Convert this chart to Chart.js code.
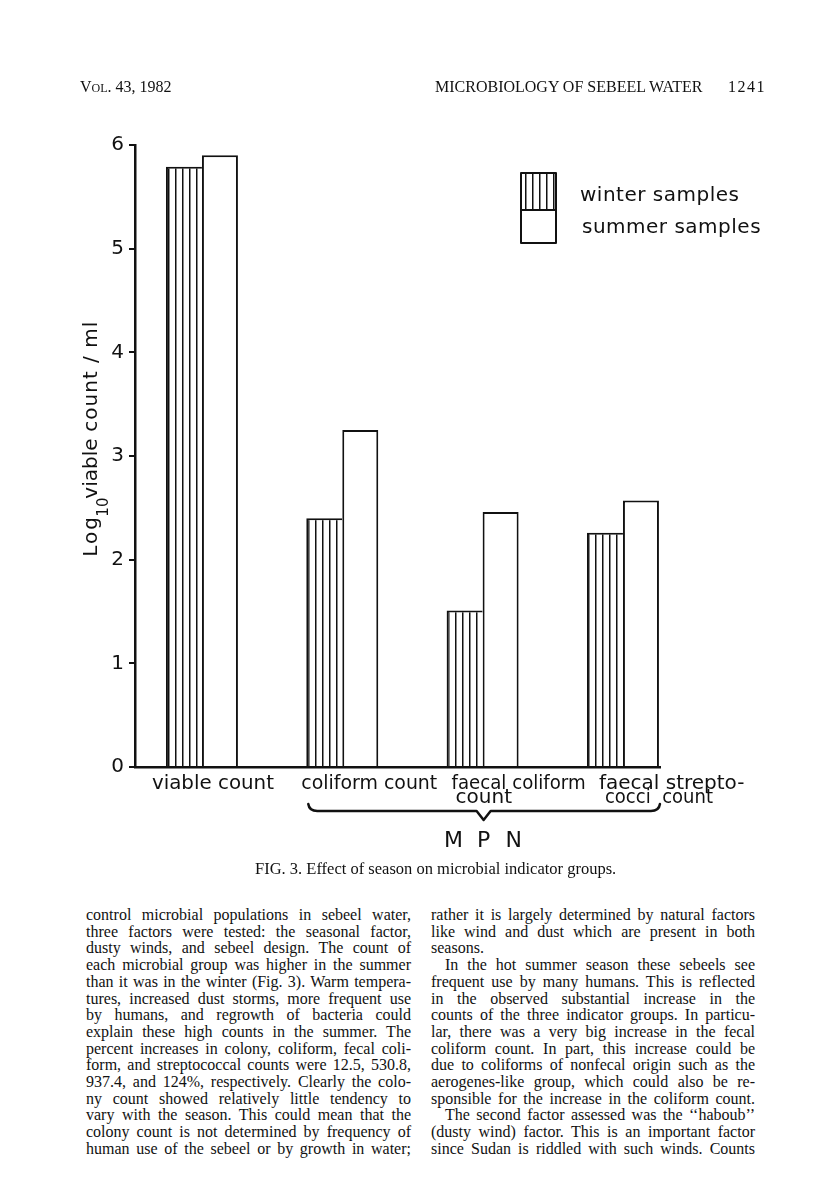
<!DOCTYPE html>
<html><head><meta charset="utf-8">
<script src="https://cdn.jsdelivr.net/npm/chart.js@4"></script>
<style>
html,body{margin:0;padding:0;background:#fff;}
body{width:816px;height:1204px;position:relative;overflow:hidden;}
#c{position:absolute;left:0;top:0;}
.t{position:absolute;font-family:'Liberation Serif','Times New Roman',serif;color:#111;white-space:nowrap;line-height:16px;}
.ln{position:absolute;font-family:'Liberation Serif','Times New Roman',serif;font-size:16px;line-height:16.7px;white-space:nowrap;color:#111;}
</style></head>
<body>
<canvas id="c" width="816" height="880"></canvas>
<div class="t" style="left:80px;top:79px;font-size:16px;">V<span style="font-size:12px">OL</span>. 43, 1982</div>
<div class="t" style="left:435px;top:79px;font-size:16px;">MICROBIOLOGY OF SEBEEL WATER</div>
<div class="t" style="left:728px;top:79px;font-size:16px;letter-spacing:1.5px;">1241</div>
<div class="t" style="left:255px;top:860px;font-size:16.5px;line-height:17px;">FIG. 3. Effect of season on microbial indicator groups.</div>
<script>
// ---- data ----
const categories = ['viable count', 'coliform count', 'faecal coliform count', 'faecal streptococci count'];
const categoryLines = [['viable count'], ['coliform count'], ['faecal coliform', 'count'], ['faecal strepto-', 'cocci  count']];
const winterSamples = [5.79, 2.40, 1.51, 2.26];
const summerSamples = [5.90, 3.25, 2.46, 2.57];
const yTicks = [0, 1, 2, 3, 4, 5, 6];
const seriesNames = ['winter samples', 'summer samples'];
const axisTitleParts = ['Log', '10', 'viable', 'count / ml'];
const groupLabel = ['M', 'P', 'N'];

const leftColumn = [
 'control microbial populations in sebeel water,',
 'three factors were tested: the seasonal factor,',
 'dusty winds, and sebeel design. The count of',
 'each microbial group was higher in the summer',
 'than it was in the winter (Fig. 3). Warm tempera-',
 'tures, increased dust storms, more frequent use',
 'by humans, and regrowth of bacteria could',
 'explain these high counts in the summer. The',
 'percent increases in colony, coliform, fecal coli-',
 'form, and streptococcal counts were 12.5, 530.8,',
 '937.4, and 124%, respectively. Clearly the colo-',
 'ny count showed relatively little tendency to',
 'vary with the season. This could mean that the',
 'colony count is not determined by frequency of',
 'human use of the sebeel or by growth in water;'
];
const rightColumn = [
 'rather it is largely determined by natural factors',
 'like wind and dust which are present in both',
 'seasons.',
 'In the hot summer season these sebeels see',
 'frequent use by many humans. This is reflected',
 'in the observed substantial increase in the',
 'counts of the three indicator groups. In particu-',
 'lar, there was a very big increase in the fecal',
 'coliform count. In part, this increase could be',
 'due to coliforms of nonfecal origin such as the',
 'aerogenes-like group, which could also be re-',
 'sponsible for the increase in the coliform count.',
 'The second factor assessed was the \u2018\u2018haboub\u2019\u2019',
 '(dusty wind) factor. This is an important factor',
 'since Sudan is riddled with such winds. Counts'
];

// ---- body text ----
function placeColumn(lines, left, width, top, lh, indentIdx, raggedIdx){
  lines.forEach((txt, i) => {
    const d = document.createElement('div'); d.className = 'ln';
    const ind = indentIdx.includes(i) ? 14 : 0;
    d.style.left = (left + ind) + 'px'; d.style.top = (top + i * lh) + 'px';
    const s = document.createElement('span'); s.textContent = txt; d.appendChild(s);
    document.body.appendChild(d);
    if (!raggedIdx.includes(i)) {
      const w = s.getBoundingClientRect().width;
      const n = (txt.match(/ /g) || []).length;
      if (n > 0) s.style.wordSpacing = ((width - ind - w) / n) + 'px';
    }
  });
}
placeColumn(leftColumn, 86, 325, 907, 16.7, [], []);
placeColumn(rightColumn, 431, 324, 907, 16.7, [3, 12], [2]);

// ---- chart ----
const canvas = document.getElementById('c');
const ctx0 = canvas.getContext('2d');
const tile = document.createElement('canvas'); tile.width = 7; tile.height = 7;
const tg = tile.getContext('2d');
tg.fillStyle = '#fff'; tg.fillRect(0, 0, 7, 7);
tg.fillStyle = '#111'; tg.fillRect(0, 0, 1.5, 7);
const hatch = ctx0.createPattern(tile, 'repeat');

const FONT = "'DejaVu Sans', sans-serif";
const INK = '#111';

const annot = {
  id: 'annot',
  afterDraw(chart){
    const {ctx, chartArea: a, scales: {x, y}} = chart;
    ctx.save();
    ctx.fillStyle = INK; ctx.strokeStyle = INK;
    ctx.textBaseline = 'alphabetic'; ctx.textAlign = 'left';

    // y-axis title (rotated with subscript)
    ctx.save();
    ctx.translate(a.left - 38, y.getPixelForValue(2) - 3);
    ctx.rotate(-Math.PI / 2);
    ctx.font = '20px ' + FONT;
    ctx.letterSpacing = '2px';
    ctx.fillText(axisTitleParts[0], 0, 0);
    ctx.font = '15px ' + FONT;
    ctx.letterSpacing = '0px';
    ctx.fillText(axisTitleParts[1], 40, 11);
    ctx.font = '20px ' + FONT;
    ctx.fillText(axisTitleParts[2], 58, 0);
    ctx.letterSpacing = '1px';
    ctx.fillText(axisTitleParts[3], 125, 0);
    ctx.restore();

    // category labels
    ctx.font = '20px ' + FONT;
    ctx.letterSpacing = '0px';
    const offs = [[-50], [-41], [-31, -27], [-24, -18]];
    const widths = [[122], [136], [134], [154, 108]];
    const bases = [789, 803];
    categoryLines.forEach((lines, i) => {
      const px = x.getPixelForValue(i);
      lines.forEach((t, k) => ctx.fillText(t, px + offs[i][k], bases[k], k === 0 ? widths[i][0] : (widths[i][1] || 200)));
    });

    // brace under the MPN groups
    const bl = x.getPixelForValue(1) - 34, br = x.getPixelForValue(3) + 37;
    const mid = x.getPixelForValue(2) + 1, yl = 811;
    ctx.lineWidth = 2.5; ctx.lineJoin = 'round'; ctx.lineCap = 'round';
    ctx.beginPath();
    ctx.moveTo(bl, 804);
    ctx.quadraticCurveTo(bl + 1, yl, bl + 9, yl);
    ctx.lineTo(mid - 7, yl); ctx.lineTo(mid, 820); ctx.lineTo(mid + 7, yl);
    ctx.lineTo(br - 9, yl);
    ctx.quadraticCurveTo(br - 1, yl, br, 804);
    ctx.stroke();

    ctx.font = '22px ' + FONT; ctx.textAlign = 'center';
    groupLabel.forEach((t, k) => ctx.fillText(t, mid + (k - 1) * 30, 847));

    // legend
    const ds = chart.data.datasets;
    ctx.lineWidth = 2;
    ctx.fillStyle = ds[0].backgroundColor; ctx.fillRect(521, 173, 35, 37); ctx.strokeRect(521, 173, 35, 37);
    ctx.fillStyle = ds[1].backgroundColor; ctx.fillRect(521, 210, 35, 33); ctx.strokeRect(521, 210, 35, 33);
    ctx.fillStyle = INK; ctx.textAlign = 'left'; ctx.font = '20px ' + FONT;
    ctx.letterSpacing = '0.5px';
    ctx.fillText(ds[0].label, 580, 201);
    ctx.fillText(ds[1].label, 582, 233);
    ctx.restore();
  }
};

new Chart(canvas, {
  type: 'bar',
  data: {
    datasets: [
      { label: seriesNames[0], data: winterSamples.map((v, i) => ({x: i, y: v})),
        backgroundColor: hatch, borderColor: INK, borderSkipped: false,
        borderWidth: {top: 2, left: 2, right: 0, bottom: 0} },
      { label: seriesNames[1], data: summerSamples.map((v, i) => ({x: i, y: v})),
        backgroundColor: '#fff', borderColor: INK, borderSkipped: false,
        borderWidth: {top: 2, left: 2, right: 2, bottom: 0} }
    ]
  },
  options: {
    responsive: false, animation: false, devicePixelRatio: 1,
    categoryPercentage: 0.513, barPercentage: 1,
    layout: {padding: {left: 0, top: 145, right: 156, bottom: 0}},
    plugins: {legend: {display: false}, tooltip: {enabled: false}, title: {display: false}},
    scales: {
      x: { type: 'linear', min: -0.477, max: 3.264, offset: false, z: 1,
           afterBuildTicks(s){ s.ticks = categories.map((c, i) => ({value: i})); },
           ticks: {display: false},
           grid: {display: true, drawOnChartArea: false, drawTicks: false, offset: false},
           border: {display: true, color: INK, width: 2.5},
           afterFit(s){ s.height = 880 - 767; } },
      y: { min: 0, max: 6, z: 1,
           afterBuildTicks(s){ s.ticks = yTicks.map(v => ({value: v})); },
           ticks: {color: INK, font: {family: 'DejaVu Sans', size: 20}, padding: 5},
           grid: {drawOnChartArea: false, drawTicks: true, tickLength: 6, color: INK, lineWidth: 2},
           border: {display: true, color: INK, width: 2.5},
           afterFit(s){ s.width = 135; } }
    }
  },
  plugins: [annot]
});
</script>
</body></html>
